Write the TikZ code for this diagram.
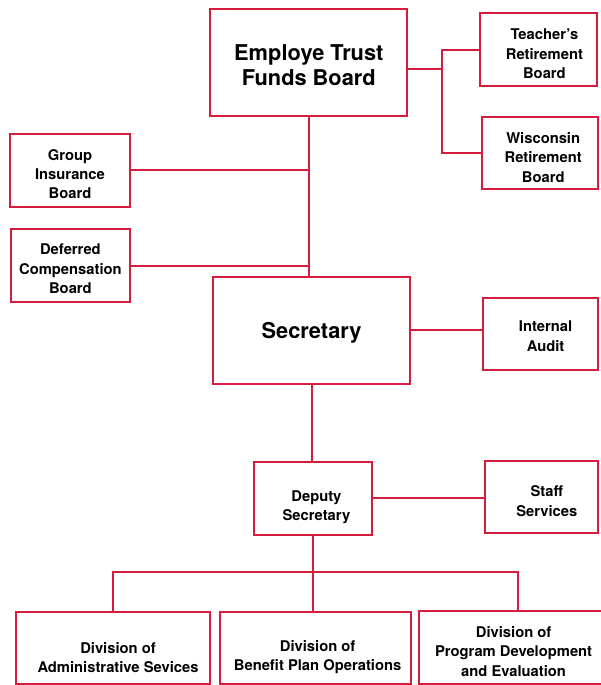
\documentclass[tikz,border=0pt]{standalone}
\usepackage{fontspec}
\setmainfont{TeX Gyre Heros}
\usepackage{tikz}
\usetikzlibrary{shapes,positioning}
\definecolor{chartred}{RGB}{214,28,60}
\newcommand{\bigtext}{\bfseries\fontsize{15.5}{17.5}\selectfont}
\newcommand{\smalltext}{\bfseries\fontsize{10.5}{13.8}\selectfont}

\begin{document}
\begin{tikzpicture}
			\tikzstyle{Box}		= [rectangle, draw=chartred, line width=1.3pt, fill=white, inner sep=0pt]
			\tikzstyle{Head}	= [Box, minimum width=4.93cm, minimum height=2.67cm]
			\tikzstyle{Board}	= [Box, minimum width=2.95cm, minimum height=1.82cm]
			\tikzstyle{Division}	= [Box, minimum width=4.8cm, minimum height=1.8cm]
			\tikzstyle{BigTxt}	= [align=center, font=\bigtext, inner sep=0pt]
			\tikzstyle{Txt}		= [align=center, font=\smalltext, inner sep=0pt]
			\tikzstyle{Link}	= [chartred, line width=1.3pt]

			\useasboundingbox (0, 0) rectangle (15, -17.125);

			\node (etf) at (7.72, -1.56) [Head, label={[BigTxt, yshift=-0.07cm]center:Employe Trust\\Funds Board}] {};
			\node (teach) at (13.46, -1.24) [Board, minimum width=2.92cm, label={[Txt, xshift=0.15cm, yshift=-0.11cm]center:Teacher's\\Retirement\\Board}] {};
			\node (wisc) at (13.5, -3.83) [Board, minimum width=2.9cm, minimum height=1.8cm, label={[Txt, xshift=0.08cm, yshift=-0.1cm]center:Wisconsin\\Retirement\\Board}] {};
			\node (group) at (1.75, -4.26) [Board, minimum width=3cm, label={[Txt, yshift=-0.09cm]center:Group\\Insurance\\Board}] {};
			\node (defer) at (1.76, -6.64) [Board, minimum width=2.98cm, label={[Txt, yshift=-0.08cm]center:Deferred\\Compensation\\Board}] {};
			\node (sec) at (7.79, -8.26) [Head, label={[BigTxt, yshift=-0.05cm]center:Secretary}] {};
			\node (audit) at (13.51, -8.35) [Board, minimum width=2.88cm, minimum height=1.8cm, label={[Txt, xshift=0.13cm, yshift=-0.05cm]center:Internal\\Audit}] {};
			\node (deputy) at (7.83, -12.46) [Board, label={[Txt, xshift=0.08cm, yshift=-0.22cm]center:Deputy\\Secretary}] {};
			\node (staff) at (13.54, -12.43) [Board, minimum width=2.83cm, minimum height=1.8cm, label={[Txt, xshift=0.13cm, yshift=-0.1cm]center:Staff\\Services}] {};
			\node (admin) at (2.83, -16.21) [Division, minimum width=4.85cm, label={[Txt, xshift=0.12cm, yshift=-0.23cm]center:Division of\\Administrative Sevices}] {};
			\node (benefit) at (7.89, -16.2) [Division, minimum width=4.78cm, label={[Txt, xshift=0.05cm, yshift=-0.23cm]center:Division of\\Benefit Plan Operations}] {};
			\node (program) at (12.95, -16.19) [Division, minimum width=4.95cm, minimum height=1.83cm, label={[Txt, xshift=-0.11cm, yshift=-0.09cm]center:Division of\\Program Development\\and Evaluation}] {};

			\coordinate (jr) at (11.05, -1.72);
			\coordinate (bus) at (7.85, -14.3);

			\draw [-] (etf.east |- jr) -- (jr) [Link];
			\draw [-] (teach.west) -| (jr) |- (wisc.west) [Link];
			\draw [-] (etf.south) -- (etf.south |- sec.north) [Link];
			\draw [-] (group.east) -- (group.east -| etf.south) [Link];
			\draw [-] (defer.east) -- (defer.east -| etf.south) [Link];
			\draw [-] (sec.east) -- (sec.east -| audit.west) [Link];
			\draw [-] (sec.south) -- (sec.south |- deputy.north) [Link];
			\draw [-] (deputy.east) -- (deputy.east -| staff.west) [Link];
			\draw [-] (deputy.south) -- (deputy.south |- benefit.north) [Link];
			\draw [-] (admin.north) |- (bus) -| (program.north) [Link];
		\end{tikzpicture}
\end{document}
